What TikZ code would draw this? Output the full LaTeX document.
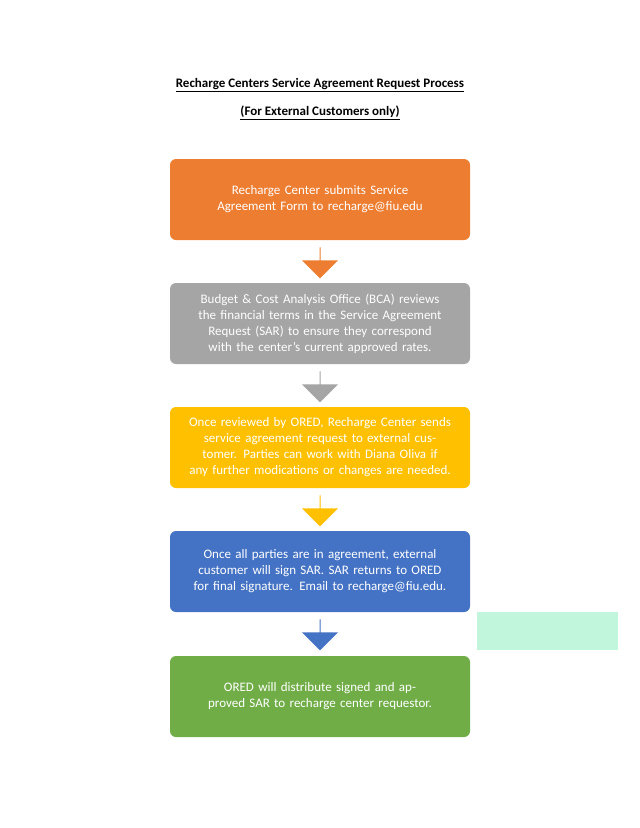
\documentclass[tikz,border=0pt]{standalone}
\usepackage{fontspec}
\setmainfont{Carlito}
\usetikzlibrary{positioning,shapes.arrows}
\definecolor{boxorange}{HTML}{ED7D31}
\definecolor{boxgray}{HTML}{A5A5A5}
\definecolor{boxgold}{HTML}{FFC000}
\definecolor{boxblue}{HTML}{4472C4}
\definecolor{boxgreen}{HTML}{70AD47}
\definecolor{mint}{HTML}{C1F5DC}
\begin{document}
\begin{tikzpicture}[x=1pt,y=1pt,
  every node/.style={font=\fontsize{13}{16}\selectfont},
  stepbox/.style={rounded corners=6pt,minimum width=300pt,minimum height=81pt,
    text width=285pt,align=center,text=white},
  downarrow/.style={single arrow,shape border rotate=270,minimum height=31pt,
    minimum width=36pt,single arrow head extend=7pt,inner sep=0pt}]

% Page
\useasboundingbox (0,0) rectangle (640,-828);

% Titles
\node (title) at (320,-85) {\textbf{\underline{Recharge Centers Service Agreement Request Process}}};
\node (subtitle) at (320,-113) {\textbf{\underline{(For External Customers only)}}};

% Steps
\node [stepbox,fill=boxorange] (submit) at (320,-199.5)
  {Recharge Center submits Service Agreement Form to recharge@fiu.edu};
\node [stepbox,fill=boxgray] (review) at (320,-323.5)
  {Budget \& Cost Analysis Office (BCA) reviews the financial terms in the Service Agreement Request (SAR) to ensure they correspond with the center's current approved rates.};
\node [stepbox,fill=boxgold] (send) at (320,-447.5)
  {Once reviewed by ORED, Recharge Center sends service agreement request to external customer. Parties can work with Diana Oliva if any further modications or changes are needed.};
\node [stepbox,fill=boxblue] (sign) at (320,-571.5)
  {Once all parties are in agreement, external customer will sign SAR. SAR returns to ORED for final signature. Email to recharge@fiu.edu.};
\node [stepbox,fill=boxgreen] (distribute) at (320,-696.5)
  {ORED will distribute signed and approved SAR to recharge center requestor.};

% Arrows between steps
\node [downarrow,fill=boxorange,below=7pt of submit] (arrow 1) {};
\node [downarrow,fill=boxgray,below=7pt of review] (arrow 2) {};
\node [downarrow,fill=boxgold,below=7pt of send] (arrow 3) {};
\node [downarrow,fill=boxblue,below=7pt of sign] (arrow 4) {};

% Side box
\fill [mint] (477,-612) rectangle (618,-650);

\end{tikzpicture}
\end{document}
